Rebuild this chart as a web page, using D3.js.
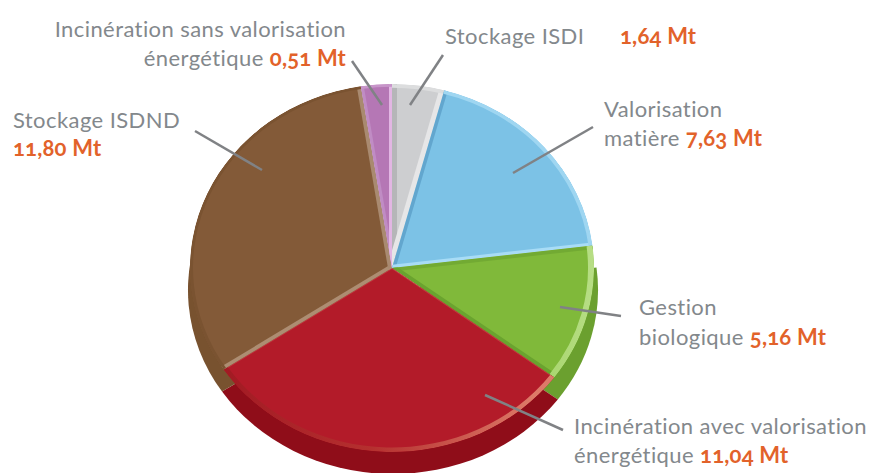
<!DOCTYPE html>
<html>
<head>
<meta charset="utf-8">
<script src="https://cdn.jsdelivr.net/npm/d3@7"></script>
<style>
    html, body { margin: 0; background: #fff; }
    text { font-family: Lato, "Open Sans", sans-serif; font-size: 22px; fill: #83888c; letter-spacing: 0.42px; }
    .amount { font-weight: 700; fill: #e2622a; font-variant-numeric: oldstyle-nums; letter-spacing: 0.2px; }
</style>
</head>
<body>
<svg id="chart" width="869" height="473"></svg>
<script>
    // printed tonnages, clockwise from the top
    var categories = ["Stockage ISDI", "Valorisation matière", "Gestion biologique",
        "Incinération avec valorisation énergétique", "Stockage ISDND",
        "Incinération sans valorisation énergétique"];
    var amounts = ["1,64 Mt", "7,63 Mt", "5,16 Mt", "11,04 Mt", "11,80 Mt", "0,51 Mt"];
    // slice sizes as drawn in the picture, in degrees (the original is not strictly proportional)
    var drawnDegrees = [15, 68, 43.5, 110, 114.6, 8.9];

    var topColors = ["#cdced0", "#7cc2e6", "#80b93a", "#b31b29", "#835a38", "#b577b5"];
    var sideColors = ["#a9aaac", "#4f93b8", "#6ba02f", "#8f0d19", "#78522f", "#8f5a8f"];
    var rimColors = ["#dcddde", "#9fd6f1", "url(#greenRim)", "url(#redRim)", "#7a5331", "#c795c9"];
    var startEdge = ["#b5b6b8", "#62a6ce", "#72aa33", "#c23a40", "#ad8d72", "#c08cc4"];
    var endEdge = ["#e6e6e7", "#a8dcf6", "#6aa32f", "#c23a40", "#a98a70", "#e2b6e3"];
    var edgeWidths = [5, 3.5, 4, 1, 4, 3];
    var rimWidths = [4, 4, 6, 5, 3, 3];

    var svg = d3.select("#chart"),
        cx = 392, cy = 268, rx = 202, ry = 184, depth = 22;

    var pie = d3.pie().sort(null).value(function (d) { return d; });
    var slices = pie(drawnDegrees);
    var arc = d3.arc().innerRadius(0).outerRadius(rx);
    var squash = "scale(1," + (ry / rx) + ")";

    var defs = svg.append("defs");

    function rimGradient(id, stops) {
        var g = defs.append("linearGradient")
            .attr("id", id)
            .attr("gradientUnits", "userSpaceOnUse")
            .attr("x1", -rx).attr("x2", rx)
            .attr("y1", 0).attr("y2", 0);
        g.selectAll("stop")
            .data(stops)
            .enter().append("stop")
            .attr("offset", function (d) { return d[0]; })
            .attr("stop-color", function (d) { return d[1]; });
    }
    rimGradient("redRim", [[0.05, "#a01822"], [0.45, "#b5302f"], [0.85, "#dd7a68"]]);
    rimGradient("greenRim", [[0.8, "#9fd05f"], [1, "#b7de85"]]);

    // side of the disc, only the slices that reach the front half show it
    var frontSlices = slices.filter(function (d) {
        return d.endAngle > Math.PI / 2 && d.startAngle < 3 * Math.PI / 2;
    });
    var side = svg.append("g")
        .attr("transform", "translate(" + (cx + 1) + "," + (cy + depth) + ") scale(1.015," + (ry / rx) + ")");
    side.selectAll("path")
        .data(frontSlices)
        .enter().append("path")
        .attr("d", arc)
        .attr("fill", function (d) { return sideColors[d.index]; });

    defs.selectAll("clipPath")
        .data(slices)
        .enter().append("clipPath")
        .attr("id", function (d, i) { return "slice" + i; })
        .append("path")
        .attr("d", arc);

    var face = svg.append("g").attr("transform", "translate(" + cx + "," + cy + ") " + squash);
    var slice = face.selectAll("g")
        .data(slices)
        .enter().append("g")
        .attr("clip-path", function (d, i) { return "url(#slice" + i + ")"; });

    slice.append("path")
        .attr("d", arc)
        .attr("fill", function (d, i) { return topColors[i]; });

    function spoke(angle) {
        return d3.line()([[0, 0], [rx * Math.sin(angle), -rx * Math.cos(angle)]]);
    }

    slice.append("path")
        .attr("d", function (d) { return spoke(d.startAngle); })
        .attr("fill", "none")
        .attr("stroke", function (d, i) { return startEdge[i]; })
        .attr("stroke-width", function (d, i) { return edgeWidths[i] * 2; });

    slice.append("path")
        .attr("d", function (d) { return spoke(d.endAngle); })
        .attr("fill", "none")
        .attr("stroke", function (d, i) { return endEdge[i]; })
        .attr("stroke-width", function (d, i) { return edgeWidths[i] * 2; });

    // band along the outer edge
    slice.append("path")
        .attr("d", function (d, i) {
            return d3.arc().innerRadius(rx - rimWidths[i]).outerRadius(rx)(d);
        })
        .attr("fill", function (d, i) { return rimColors[i]; });

    // leader lines, from label to slice
    var leaders = [
        [[443, 55], [410, 105]],
        [[593, 127], [513, 173]],
        [[621, 316], [560, 307]],
        [[563, 430], [485, 395]],
        [[195, 131], [262, 170]],
        [[352, 61], [382, 105]]
    ];
    svg.append("g").selectAll("line")
        .data(leaders)
        .enter().append("line")
        .attr("x1", function (d) { return d[0][0]; })
        .attr("y1", function (d) { return d[0][1]; })
        .attr("x2", function (d) { return d[1][0]; })
        .attr("y2", function (d) { return d[1][1]; })
        .attr("stroke", "#808285")
        .attr("stroke-width", 2.5);

    var labelLines = [
        { x: 445, y: 44, anchor: "start", parts: [["Stockage ISDI", false]] },
        { x: 620, y: 44, anchor: "start", parts: [[amounts[0], true]] },
        { x: 604, y: 117, anchor: "start", parts: [["Valorisation", false]] },
        { x: 604, y: 146, anchor: "start", parts: [["matière ", false], [amounts[1], true]] },
        { x: 639, y: 315, anchor: "start", parts: [["Gestion", false]] },
        { x: 639, y: 345, anchor: "start", parts: [["biologique ", false], [amounts[2], true]] },
        { x: 574, y: 434, anchor: "start", parts: [["Incinération avec valorisation", false]] },
        { x: 574, y: 463, anchor: "start", parts: [["énergétique ", false], [amounts[3], true]] },
        { x: 13, y: 128, anchor: "start", parts: [["Stockage ISDND", false]] },
        { x: 13, y: 156, anchor: "start", parts: [[amounts[4], true]] },
        { x: 346, y: 37, anchor: "end", parts: [["Incinération sans valorisation", false]] },
        { x: 346, y: 66, anchor: "end", parts: [["énergétique ", false], [amounts[5], true]] }
    ];

    var label = svg.append("g").selectAll("text")
        .data(labelLines)
        .enter().append("text")
        .attr("x", function (d) { return d.x; })
        .attr("y", function (d) { return d.y; })
        .attr("text-anchor", function (d) { return d.anchor; });

    label.selectAll("tspan")
        .data(function (d) { return d.parts; })
        .enter().append("tspan")
        .attr("class", function (d) { return d[1] ? "amount" : null; })
        .text(function (d) { return d[0]; });
</script>
</body>
</html>
